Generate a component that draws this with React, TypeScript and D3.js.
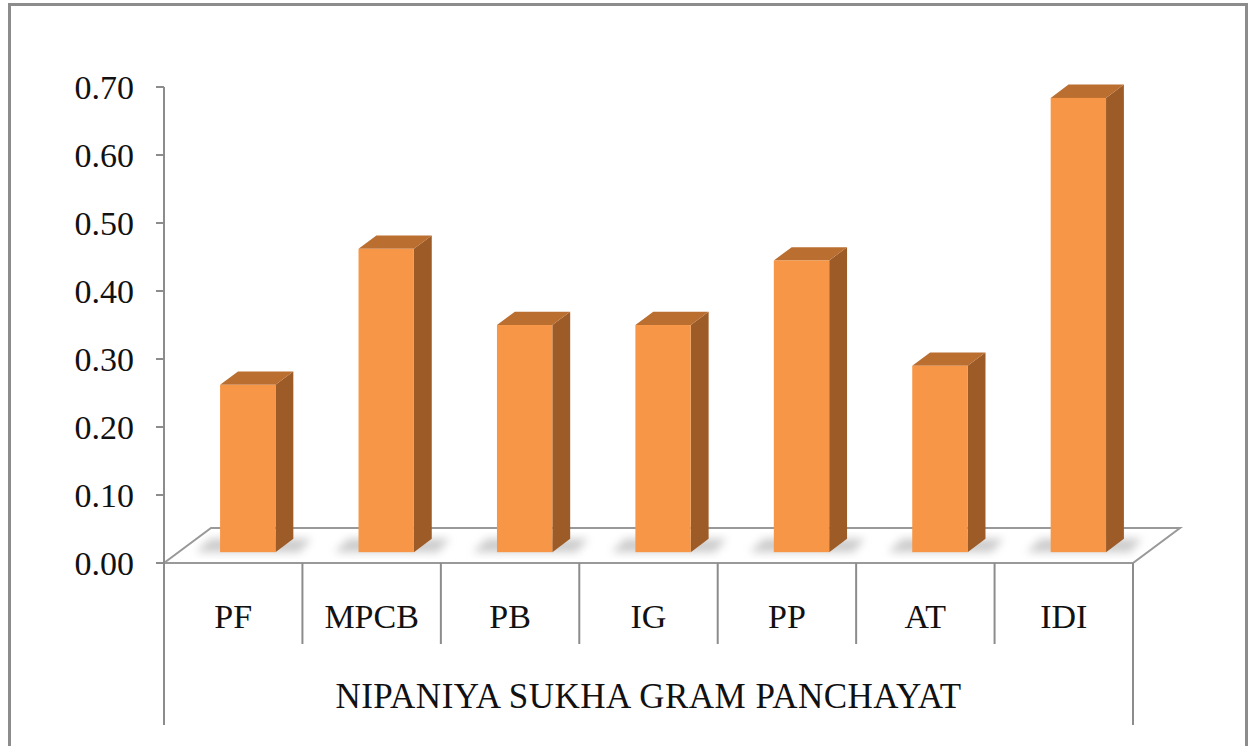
import React, { useEffect, useRef } from 'react';
import * as d3 from 'd3';

const categories = ['PF', 'MPCB', 'PB', 'IG', 'PP', 'AT', 'IDI'];
const values = [0.246, 0.446, 0.334, 0.334, 0.429, 0.274, 0.668];
const yTicks = [0, 0.1, 0.2, 0.3, 0.4, 0.5, 0.6, 0.7];
const groupLabel = 'NIPANIYA SUKHA GRAM PANCHAYAT';

const App = () => {
  const svgRef = useRef<SVGSVGElement | null>(null);

  useEffect(() => {
    const width = 1249;
    const height = 746;
    const left = 164;
    const right = 1133;
    const floorY = 563;
    const topY = 87;
    const depth = { dx: 47, dy: -35 }; // floor depth vector
    const font = "'Times New Roman', 'Liberation Serif', 'DejaVu Serif', serif";
    const axisColor = '#8c8c8c';

    const svg = d3.select(svgRef.current)
      .attr('width', width)
      .attr('height', height);
    svg.selectAll('*').remove();

    const defs = svg.append('defs');
    defs.append('filter')
      .attr('id', 'shadowBlur')
      .attr('x', '-50%').attr('y', '-50%').attr('width', '200%').attr('height', '200%')
      .append('feGaussianBlur')
      .attr('stdDeviation', 4);

    // outer border
    svg.append('rect')
      .attr('x', 9.5).attr('y', 4.5)
      .attr('width', 1237).attr('height', 780)
      .attr('fill', 'white')
      .attr('stroke', axisColor)
      .attr('stroke-width', 3);

    const xScale = d3.scaleBand()
      .domain(categories)
      .range([left, right])
      .padding(0);

    const yScale = d3.scaleLinear()
      .domain([0, 0.7])
      .range([floorY, topY]);

    // floor
    const floorPts: [number, number][] = [
      [left, floorY], [right, floorY],
      [right + depth.dx, floorY + depth.dy], [left + depth.dx, floorY + depth.dy]
    ];
    svg.append('polygon')
      .attr('points', floorPts.map(p => p.join(',')).join(' '))
      .attr('fill', 'white')
      .attr('stroke', '#999')
      .attr('stroke-width', 2);

    // y axis
    svg.append('line')
      .attr('x1', left).attr('x2', left)
      .attr('y1', yScale(0.7)).attr('y2', floorY)
      .attr('stroke', axisColor).attr('stroke-width', 2);

    const ticks = svg.append('g')
      .attr('font-family', font)
      .attr('font-size', 34);
    ticks.selectAll('line')
      .data(yTicks)
      .enter()
      .append('line')
      .attr('x1', left - 8).attr('x2', left)
      .attr('y1', d => yScale(d)).attr('y2', d => yScale(d))
      .attr('stroke', axisColor).attr('stroke-width', 2);
    ticks.selectAll('text')
      .data(yTicks)
      .enter()
      .append('text')
      .attr('x', 134)
      .attr('y', d => yScale(d))
      .attr('dy', '0.35em')
      .attr('text-anchor', 'end')
      .attr('fill', '#111')
      .text(d => d3.format('.2f')(d));

    // bars
    const bw = xScale.bandwidth();
    const barW = bw * 0.4;
    const frontT = 0.31;
    const barT = 0.38;
    const fdx = depth.dx * frontT;
    const fdy = depth.dy * frontT;
    const bdx = depth.dx * barT;
    const bdy = depth.dy * barT;

    const bars = svg.append('g');
    categories.forEach((c, i) => {
      const x0 = (xScale(c) || 0) + (bw - barW) / 2 + fdx;
      const x1 = x0 + barW;
      const yb = floorY + fdy;
      const yt = yScale(values[i]) + fdy;
      const g = bars.append('g');

      // soft shadow on floor
      g.append('polygon')
        .attr('points', [
          [x0 - 24, yb], [x1 + 24, yb],
          [x1 + bdx + 18, yb + bdy], [x0 + bdx - 28, yb + bdy]
        ].map(p => p.join(',')).join(' '))
        .attr('fill', '#9a9a9a')
        .attr('opacity', 0.5)
        .attr('filter', 'url(#shadowBlur)');

      // side
      g.append('polygon')
        .attr('points', [
          [x1, yt], [x1 + bdx, yt + bdy], [x1 + bdx, yb + bdy], [x1, yb]
        ].map(p => p.join(',')).join(' '))
        .attr('fill', '#9c5b27');
      // top
      g.append('polygon')
        .attr('points', [
          [x0, yt], [x1, yt], [x1 + bdx, yt + bdy], [x0 + bdx, yt + bdy]
        ].map(p => p.join(',')).join(' '))
        .attr('fill', '#ba6e30');
      // front
      g.append('rect')
        .attr('x', x0).attr('y', yt)
        .attr('width', barW).attr('height', yb - yt)
        .attr('fill', '#f79646');
    });

    // category dividers
    const bounds = categories.map(c => xScale(c) || 0).concat([right]);
    svg.append('g').selectAll('line')
      .data(bounds)
      .enter()
      .append('line')
      .attr('x1', d => d).attr('x2', d => d)
      .attr('y1', floorY)
      .attr('y2', (d, i) => (i === 0 || i === bounds.length - 1) ? 725 : 644)
      .attr('stroke', axisColor).attr('stroke-width', 2);

    svg.append('g')
      .attr('font-family', font)
      .attr('font-size', 34)
      .selectAll('text')
      .data(categories)
      .enter()
      .append('text')
      .attr('x', d => (xScale(d) || 0) + bw / 2)
      .attr('y', 616)
      .attr('dy', '0.35em')
      .attr('text-anchor', 'middle')
      .attr('fill', '#111')
      .text(d => d);

    svg.append('text')
      .attr('x', (left + right) / 2)
      .attr('y', 696)
      .attr('dy', '0.35em')
      .attr('text-anchor', 'middle')
      .attr('font-family', font)
      .attr('font-size', 35)
      .attr('letter-spacing', 0.5)
      .attr('fill', '#111')
      .text(groupLabel);
  }, []);

  return <svg ref={svgRef} style={{ position: 'absolute', left: 0, top: 0 }}></svg>;
};

export default App;
